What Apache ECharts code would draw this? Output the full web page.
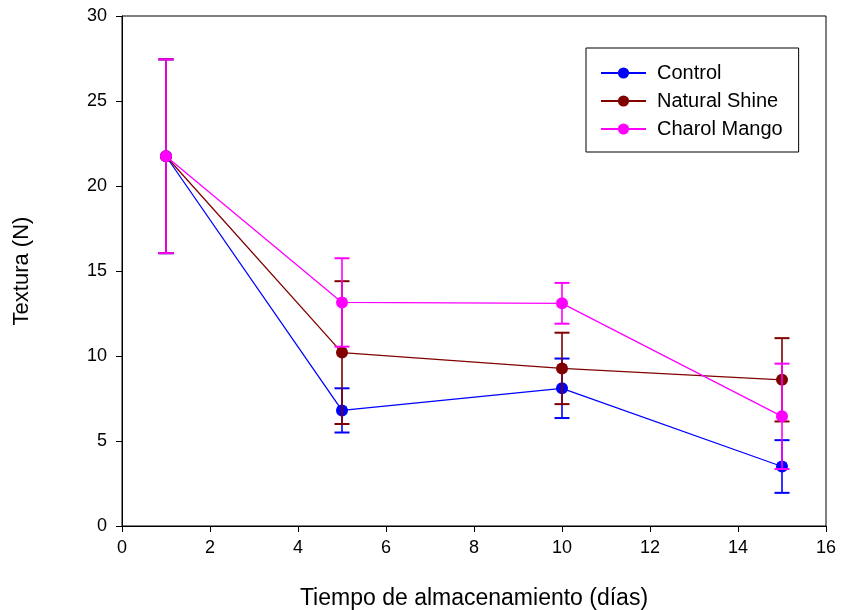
<!DOCTYPE html>
<html>
<head>
<meta charset="utf-8">
<script src="https://cdn.jsdelivr.net/npm/echarts@6/dist/echarts.min.js"></script>
<style>
  html, body { margin: 0; padding: 0; background: #fff; }
  #main { width: 843px; height: 610px; }
</style>
</head>
<body>
<div id="main"></div>
<script>
// dias de almacenamiento
var dias = [1, 5, 10, 15];

// textura media y error por tratamiento
var control = [21.75, 6.8, 8.1, 3.5];
var controlErr = [5.7, 1.3, 1.75, 1.55];

var naturalShine = [21.75, 10.2, 9.27, 8.6];
var naturalShineErr = [5.7, 4.2, 2.1, 2.45];

var charolMango = [21.75, 13.15, 13.1, 6.45];
var charolMangoErr = [5.7, 2.6, 1.2, 3.1];

var nombres = ['Control', 'Natural Shine', 'Charol Mango'];
var colores = ['#0000ff', '#800000', '#ff00ff'];

var xTicks = { min: 0, max: 16, interval: 2 };
var yTicks = { min: 0, max: 30, interval: 5 };

var fuente = 'Liberation Sans, Arial, sans-serif';

function pares(vals) {
	return dias.map(function (d, i) { return [d, vals[i]]; });
}

function barras(vals, errs) {
	return dias.map(function (d, i) { return [d, vals[i] - errs[i], vals[i] + errs[i]]; });
}

function errorBar(color) {
	return function (params, api) {
		var lo = api.coord([api.value(0), api.value(1)]);
		var hi = api.coord([api.value(0), api.value(2)]);
		var w = 7.5;
		var st = { stroke: color, lineWidth: 1.6 };
		return {
			type: 'group',
			children: [
				{ type: 'line', shape: { x1: hi[0], y1: hi[1], x2: lo[0], y2: lo[1] }, style: st },
				{ type: 'line', shape: { x1: hi[0] - w, y1: hi[1], x2: hi[0] + w, y2: hi[1] }, style: { stroke: color, lineWidth: 2 } },
				{ type: 'line', shape: { x1: lo[0] - w, y1: lo[1], x2: lo[0] + w, y2: lo[1] }, style: { stroke: color, lineWidth: 2 } }
			]
		};
	};
}

var medias = [control, naturalShine, charolMango];
var errores = [controlErr, naturalShineErr, charolMangoErr];

var series = [];
for (var k = 0; k < 3; k++) {
	series.push({
		name: nombres[k],
		type: 'line',
		data: pares(medias[k]),
		symbol: 'circle',
		symbolSize: 12,
		showSymbol: true,
		color: colores[k],
		lineStyle: { color: colores[k], width: 1.3 },
		itemStyle: { color: colores[k] },
		z: 2 + k * 2,
		animation: false
	});
	series.push({
		name: nombres[k] + ' err',
		type: 'custom',
		data: barras(medias[k], errores[k]),
		renderItem: errorBar(colores[k]),
		z: 3 + k * 2,
		silent: true,
		animation: false
	});
}

var myChart = echarts.init(document.getElementById('main'));

var option = {
	backgroundColor: '#fff',
	animation: false,
	grid: {
		left: 122,
		top: 16,
		right: 17,
		bottom: 84,
		outerBoundsMode: 'none',
		show: true,
		borderColor: '#000',
		borderWidth: 1
	},
	legend: {
		data: nombres,
		orient: 'vertical',
		left: 586,
		top: 48,
		itemWidth: 45,
		itemHeight: 14,
		itemGap: 8,
		padding: [15, 16, 13, 14],
		borderColor: '#000',
		borderWidth: 1,
		textStyle: { fontSize: 20, fontFamily: fuente, color: '#000', padding: [0, 0, 0, 6], lineHeight: 20 }
	},
	xAxis: {
		type: 'value',
		min: xTicks.min,
		max: xTicks.max,
		interval: xTicks.interval,
		name: 'Tiempo de almacenamiento (días)',
		nameLocation: 'middle',
		nameGap: 61,
		nameTextStyle: { fontSize: 23, fontFamily: fuente, color: '#000' },
		axisLine: { lineStyle: { color: '#000', width: 1 } },
		axisTick: { show: true, length: 6, lineStyle: { color: '#000' } },
		axisLabel: { fontSize: 18, fontFamily: fuente, color: '#000', margin: 13 },
		splitLine: { show: false }
	},
	yAxis: {
		type: 'value',
		min: yTicks.min,
		max: yTicks.max,
		interval: yTicks.interval,
		name: 'Textura (N)',
		nameLocation: 'middle',
		nameGap: 89,
		nameTextStyle: { fontSize: 22, fontFamily: fuente, color: '#000' },
		axisLine: { lineStyle: { color: '#000', width: 1 } },
		axisTick: { show: true, length: 6, lineStyle: { color: '#000' } },
		axisLabel: { fontSize: 18, fontFamily: fuente, color: '#000', margin: 15 },
		splitLine: { show: false }
	},
	series: series
};

myChart.setOption(option);
</script>
</body>
</html>
